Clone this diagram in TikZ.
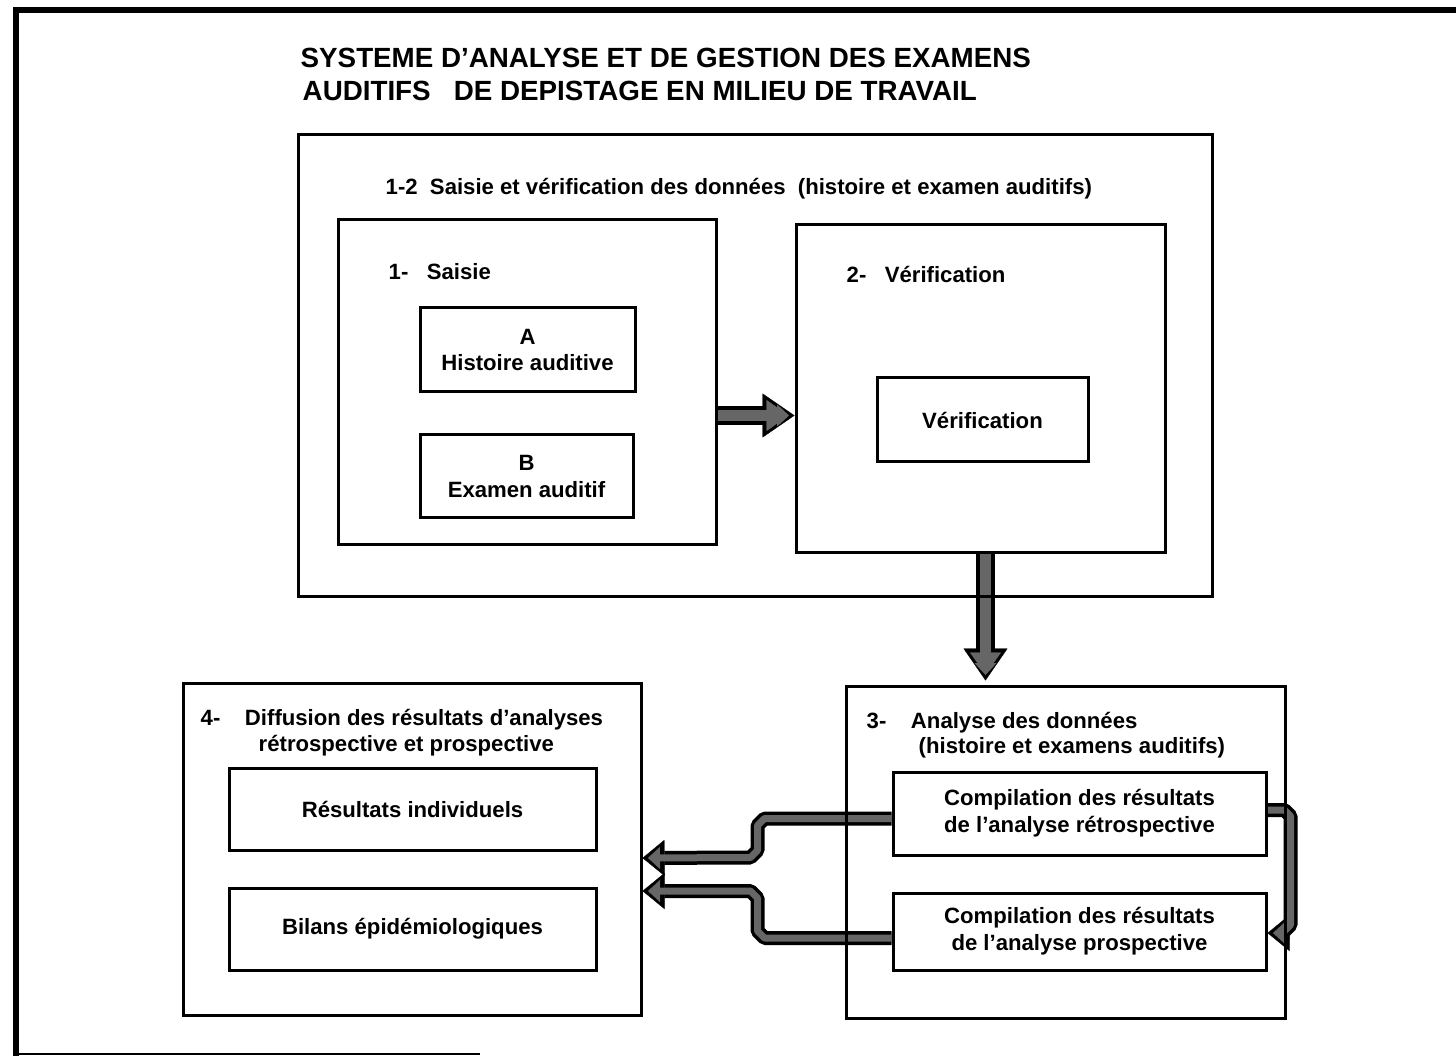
\documentclass[tikz,border=0pt]{standalone}
\usepackage{fontspec}
\setmainfont{Liberation Sans}
\usepackage{tikz}
\usetikzlibrary{arrows.meta, backgrounds}

\begin{document}
\begin{tikzpicture}[
        x=0.1mm, y=-0.1mm, % one unit per pixel, y downwards
        box/.style={draw, line width=0.3mm, inner sep=0pt}, % plain frame
        lbl/.style={font=\bfseries\fontsize{6.3}{7.6}\selectfont, inner sep=0pt}, % small bold text
        inbox/.style={box, lbl, align=center}, % framed text
        ttl/.style={font=\bfseries\fontsize{7.9}{9.5}\selectfont, inner sep=0pt, anchor=base west}, % heading
        pipe/.style={draw=black, line width=1.4mm, line join=bevel,
            -{Triangle[length=2.2mm, width=3.6mm, line width=0.1pt]},
            postaction={draw=black!60, line width=0.7mm, shorten >=0.55mm,
                -{Triangle[length=1.2mm, width=2.2mm, line width=0.1pt]}}}, % hatched arrow
        bigpipe/.style={pipe, line width=1.9mm,
            -{Triangle[length=3.2mm, width=4.4mm, line width=0.1pt]},
            postaction={draw=black!60, line width=1.1mm, shorten >=0.6mm,
                -{Triangle[length=2.2mm, width=3.1mm, line width=0.1pt]}}} % hatched arrow, wide
    ]
    \useasboundingbox (0,0) rectangle (1456,1056);

    % page frame
    \draw[line width=0.6mm] (1456,10) -- (16,10) -- (16,1056);
    \draw[line width=0.15mm] (16,1054) -- (480,1054);

    % heading
    \node[ttl] (title1) at (300,68) {SYSTEME D'ANALYSE ET DE GESTION DES EXAMENS};
    \node[ttl] (title2) at (302,101) {AUDITIFS\ \ \ DE DEPISTAGE EN MILIEU DE TRAVAIL};

    % 1-2 saisie et verification
    \node[box, minimum width=91.4mm, minimum height=46.2mm] (sv) at (755,366) {};
    \node[lbl, anchor=base west] (svtxt) at (385,195) {1-2\ \ Saisie et vérification des données\ \ (histoire et examen auditifs)};

    \node[box, minimum width=37.8mm, minimum height=32.5mm] (saisie) at (527,382.5) {};
    \node[lbl, anchor=base west] (saisietxt) at (388,280) {1-\ \ \ Saisie};
    \node[inbox, minimum width=21.5mm, minimum height=8.4mm] (histA) at (527.5,350) {A\\Histoire auditive};
    \node[inbox, minimum width=21.3mm, minimum height=8.3mm] (examB) at (526.5,476.5) {B\\Examen auditif};

    \node[box, minimum width=36.9mm, minimum height=32.8mm] (verif) at (980.5,389) {};
    \node[lbl, anchor=base west] (veriftxt) at (846,283) {2-\ \ \ Vérification};
    \node[inbox, minimum width=21.1mm, minimum height=8.4mm] (verifin) at (982.5,420) {Vérification};

    % 3 analyse
    \node[box, minimum width=43.9mm, minimum height=33.2mm] (analyse) at (1065.5,852) {};
    \node[lbl, anchor=base west] (analysetxt) at (866,728) {3-\ \ \ \ Analyse des données};
    \node[lbl, anchor=base west] (analysetxtb) at (918,754) {(histoire et examens auditifs)};
    \node[inbox, minimum width=37.3mm, minimum height=8.3mm] (compR) at (1079.5,813.5) {Compilation des résultats\\de l'analyse rétrospective};
    \node[inbox, minimum width=37.3mm, minimum height=7.7mm] (compP) at (1079.5,931.5) {Compilation des résultats\\de l'analyse prospective};

    % 4 diffusion
    \node[box, minimum width=45.8mm, minimum height=33.2mm] (diffusion) at (412,849) {};
    \node[lbl, anchor=base west] (difftxt) at (200,726) {4-\ \ \ \ Diffusion des résultats d'analyses};
    \node[lbl, anchor=base west] (difftxtb) at (258,752) {rétrospective et prospective};
    \node[inbox, minimum width=36.7mm, minimum height=8.2mm] (resind) at (412.5,809) {Résultats individuels};
    \node[inbox, minimum width=36.7mm, minimum height=8.2mm] (bilans) at (412.5,929) {Bilans épidémiologiques};

    % arrows behind the frames
    \begin{scope}[on background layer]
        \draw[bigpipe] ([yshift=-3.3mm]saisie.east) -- ([yshift=-3.3mm]saisie.east -| verif.west);
        \draw[bigpipe] ([xshift=0.5mm]verif.south) -- ([xshift=0.5mm,yshift=0.4mm]verif.south |- analyse.north);
        \draw[pipe] ([yshift=-0.5mm]compR.west) -- ++(-127,0) -- ++(-7,7) -- ++(0,25) -- ++(-7,7) -- ([yshift=-0.9mm]diffusion.east);
        \draw[pipe] ([yshift=-0.65mm]compP.west) -- ++(-127,0) -- ++(-7,-7) -- ++(0,-33) -- ++(-7,-7) -- ([yshift=-4.2mm]diffusion.east);
        \draw[pipe] ([yshift=0.35mm]compR.east) -- ++(17,0) -- ++(6,6) -- ++(0,109) -- ++(-8,8) -- ([yshift=-0.15mm]compP.east);
    \end{scope}
\end{tikzpicture}
\end{document}
